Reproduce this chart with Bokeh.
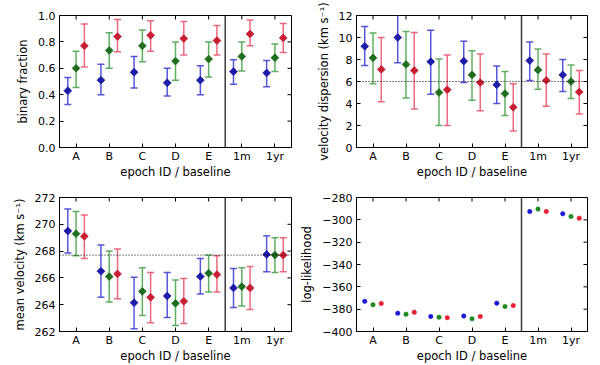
import numpy as np
from bokeh.plotting import figure
from bokeh.models import Range1d, FixedTicker, Span
from bokeh.layouts import column, row
from bokeh.embed import file_html
from bokeh.resources import INLINE

categories = ["A", "B", "C", "D", "E", "1m", "1yr"]
xpos = [0, 1, 2, 3, 4, 5, 6]
offsets = [-0.25, 0.0, 0.25]

# binary fraction
bf_blue = [0.43, 0.51, 0.57, 0.49, 0.51, 0.575, 0.565]
bf_blue_lo = [0.325, 0.40, 0.45, 0.39, 0.40, 0.48, 0.46]
bf_blue_hi = [0.53, 0.63, 0.69, 0.60, 0.62, 0.665, 0.66]
bf_green = [0.60, 0.735, 0.77, 0.655, 0.67, 0.69, 0.68]
bf_green_lo = [0.455, 0.60, 0.65, 0.51, 0.535, 0.58, 0.575]
bf_green_hi = [0.73, 0.87, 0.89, 0.80, 0.80, 0.80, 0.785]
bf_red = [0.77, 0.84, 0.85, 0.825, 0.81, 0.86, 0.83]
bf_red_lo = [0.61, 0.725, 0.73, 0.70, 0.70, 0.77, 0.72]
bf_red_hi = [0.935, 0.97, 0.96, 0.955, 0.925, 0.965, 0.94]
bf_ticks = [0, 0.2, 0.4, 0.6, 0.8, 1.0]
bf_labels = ["0.0", "0.2", "0.4", "0.6", "0.8", "1.0"]

# velocity dispersion
vd_blue = [9.2, 10.0, 7.8, 7.85, 5.7, 7.9, 6.6]
vd_blue_lo = [7.45, 7.7, 4.85, 5.9, 4.0, 6.1, 5.1]
vd_blue_hi = [11.0, 12.3, 10.65, 9.65, 7.4, 9.6, 8.0]
vd_green = [8.15, 7.55, 5.0, 6.6, 4.9, 7.05, 6.0]
vd_green_lo = [5.8, 4.5, 2.0, 4.3, 2.9, 5.3, 4.45]
vd_green_hi = [10.4, 10.55, 8.05, 8.8, 6.9, 8.95, 7.5]
vd_red = [7.1, 7.0, 5.25, 5.9, 3.65, 6.1, 5.05]
vd_red_lo = [4.15, 3.5, 2.0, 3.35, 1.5, 3.75, 3.05]
vd_red_hi = [10.0, 10.45, 8.4, 8.5, 5.8, 8.5, 7.0]
vd_ticks = [0, 2, 4, 6, 8, 10, 12]
vd_ref = 6.0

# mean velocity
mv_blue = [269.5, 266.5, 264.15, 264.65, 266.1, 265.25, 267.75]
mv_blue_lo = [267.85, 264.55, 262.2, 263.05, 264.8, 263.8, 266.45]
mv_blue_hi = [271.15, 268.45, 266.05, 266.4, 267.45, 266.7, 269.15]
mv_green = [269.3, 266.1, 265.0, 264.1, 266.35, 265.35, 267.7]
mv_green_lo = [267.65, 264.2, 263.2, 262.45, 264.95, 263.9, 266.4]
mv_green_hi = [270.95, 268.0, 266.75, 265.85, 267.7, 266.75, 269.0]
mv_red = [269.1, 266.3, 264.55, 264.25, 266.25, 265.25, 267.7]
mv_red_lo = [267.45, 264.45, 262.65, 262.6, 264.95, 263.65, 266.45]
mv_red_hi = [270.7, 268.15, 266.4, 265.95, 267.65, 266.85, 269.0]
mv_ticks = [262, 264, 266, 268, 270, 272]
mv_ref = 267.7

# log-likelihood
ll_blue = [-373.0, -383.6, -386.6, -386.2, -374.6, -292.5, -294.6]
ll_green = [-376.0, -384.5, -387.2, -388.6, -377.6, -290.4, -297.0]
ll_red = [-374.9, -382.8, -387.6, -386.6, -376.8, -292.5, -298.5]
ll_ticks = [-400, -380, -360, -340, -320, -300, -280]

marker_colors = ["#1c1ca8", "#1f6e1f", "#c81e32"]
bar_colors = ["#4545d6", "#50a650", "#e85a72"]
dot_colors = ["#1a1ad6", "#1d8a1d", "#e42032"]

FONT = "DejaVu Sans"
TICK_FS = "11px"
LAB_FS = "11.5px"
SEP = 4.5
XR = (-0.5, 6.5)


def make_fig(width, height, left, right, top, bottom, yr, yticks, ylabel, yover=None):
    p = figure(width=width, height=height, x_range=Range1d(*XR),
               y_range=Range1d(*yr), output_backend="svg", toolbar_location=None,
               min_border_left=left, min_border_right=right,
               min_border_top=top, min_border_bottom=bottom)
    p.xgrid.visible = False
    p.ygrid.visible = False
    p.outline_line_color = "black"
    p.outline_line_width = 1
    p.outline_line_alpha = 1
    p.background_fill_color = "white"
    p.border_fill_color = "white"

    xa = p.xaxis[0]
    xa.ticker = FixedTicker(ticks=xpos)
    xa.major_label_overrides = {i: c for i, c in zip(xpos, categories)}
    xa.axis_label = "epoch ID / baseline"
    ya = p.yaxis[0]
    ya.ticker = FixedTicker(ticks=yticks)
    if yover:
        ya.major_label_overrides = yover
    ya.axis_label = ylabel
    for ax in (xa, ya):
        ax.major_tick_in = 4
        ax.major_tick_out = 0
        ax.minor_tick_line_color = None
        ax.axis_line_color = "black"
        ax.major_tick_line_color = "black"
        ax.major_label_text_font = FONT
        ax.major_label_text_font_size = TICK_FS
        ax.major_label_text_color = "black"
        ax.axis_label_text_font = FONT
        ax.axis_label_text_font_size = LAB_FS
        ax.axis_label_text_font_style = "normal"
        ax.axis_label_text_color = "black"
    xa.major_label_standoff = 2
    xa.axis_label_standoff = -1
    ya.major_label_standoff = 4
    ya.axis_label_standoff = 5

    # inward ticks on the top and right edges (outer half is clipped by the frame)
    p.scatter(x=xpos, y=[yr[1]] * len(xpos), marker="dash", angle=np.pi / 2, size=8,
              line_color="black", line_width=1)
    p.scatter(x=[XR[1]] * len(yticks), y=yticks, marker="dash", size=8,
              line_color="black", line_width=1)

    p.add_layout(Span(location=SEP, dimension="height", line_color="#3c3c3c", line_width=1.5))
    return p


def add_errbars(p, series):
    for k, (v, lo, hi) in enumerate(series):
        xs = [x + offsets[k] for x in xpos]
        p.segment(x0=xs, y0=lo, x1=xs, y1=hi, line_color=bar_colors[k], line_width=1.5, line_alpha=0.9)
        p.scatter(x=xs, y=lo, marker="dash", size=7, line_color=bar_colors[k], line_width=1.5, line_alpha=0.9)
        p.scatter(x=xs, y=hi, marker="dash", size=7, line_color=bar_colors[k], line_width=1.5, line_alpha=0.9)
    for k, (v, lo, hi) in enumerate(series):
        xs = [x + offsets[k] for x in xpos]
        p.scatter(x=xs, y=v, marker="square", angle=np.pi / 4, size=5.5,
                  fill_color=marker_colors[k], line_color=marker_colors[k], line_width=0.8)


W1, W2 = 297, 296
H1, H2 = 181, 184

p1 = make_fig(W1, H1, 59, 6, 15, 34, (0, 1), bf_ticks, "binary fraction",
              yover={t: s for t, s in zip(bf_ticks, bf_labels)})
add_errbars(p1, [(bf_blue, bf_blue_lo, bf_blue_hi), (bf_green, bf_green_lo, bf_green_hi), (bf_red, bf_red_lo, bf_red_hi)])

p2 = make_fig(W2, H1, 59, 6, 15, 34, (0, 12), vd_ticks, "velocity dispersion (km s\u207b\u00b9)")
p2.add_layout(Span(location=vd_ref, dimension="width", line_color="black", line_width=1, line_dash="1 2"))
add_errbars(p2, [(vd_blue, vd_blue_lo, vd_blue_hi), (vd_green, vd_green_lo, vd_green_hi), (vd_red, vd_red_lo, vd_red_hi)])

p3 = make_fig(W1, H2, 59, 6, 16, 34, (262, 272), mv_ticks, "mean velocity (km s\u207b\u00b9)")
p3.add_layout(Span(location=mv_ref, dimension="width", line_color="black", line_width=1, line_dash="1 2"))
add_errbars(p3, [(mv_blue, mv_blue_lo, mv_blue_hi), (mv_green, mv_green_lo, mv_green_hi), (mv_red, mv_red_lo, mv_red_hi)])

p4 = make_fig(W2, H2, 59, 6, 16, 34, (-400, -280), ll_ticks, "log-likelihood",
              yover={t: "\u2212" + str(abs(t)) for t in ll_ticks})
for k, vals in enumerate([ll_blue, ll_green, ll_red]):
    xs = [x + offsets[k] for x in xpos]
    p4.scatter(x=xs, y=vals, marker="circle", size=4.5, fill_color=dot_colors[k], line_color=dot_colors[k], line_width=0.5)

layout = column(row(p1, p2), row(p3, p4))
open("out.html", "w").write(file_html(layout, INLINE))
